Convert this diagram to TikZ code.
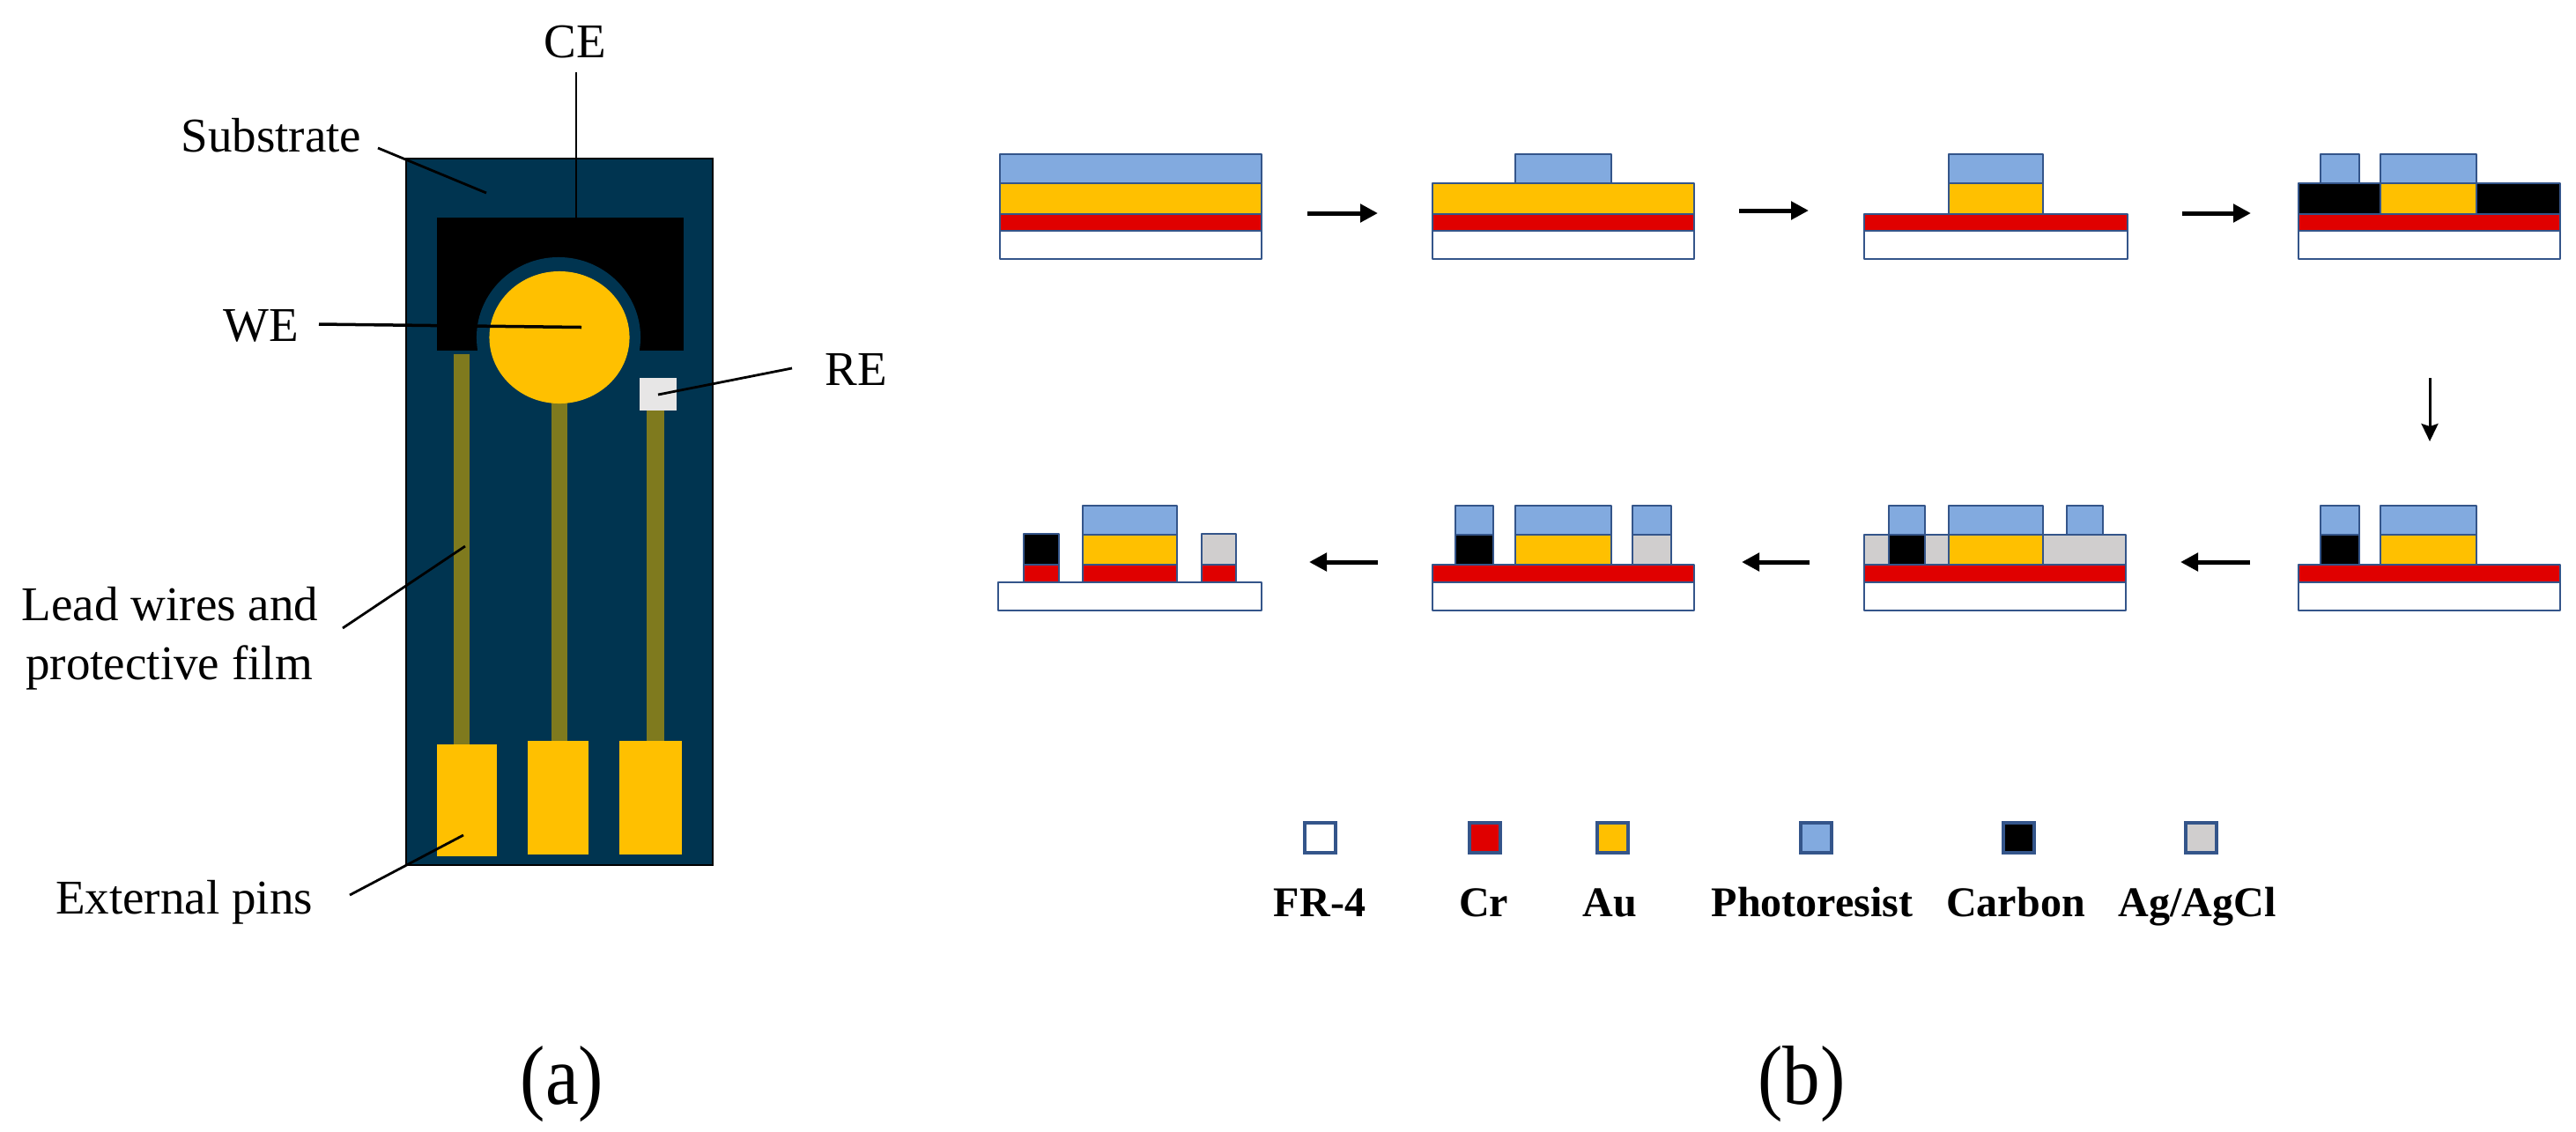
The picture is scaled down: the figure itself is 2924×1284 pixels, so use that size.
\documentclass[tikz,border=0pt]{standalone}
\usepackage{fontspec}
\setmainfont{Liberation Serif}
\usetikzlibrary{arrows.meta}
\definecolor{subst}{HTML}{003450}
\definecolor{lead}{HTML}{7F7A1E}
\definecolor{gold}{HTML}{FFC000}
\definecolor{crred}{HTML}{E00000}
\definecolor{resist}{HTML}{82AADF}
\definecolor{agcl}{HTML}{D0CECE}
\definecolor{edge}{HTML}{34558A}
\definecolor{regray}{HTML}{E7E6E6}
\newcommand{\layerbox}[5]{\draw[layer,fill=#5] (#1,#2) rectangle (#3,#4);}
\newcommand{\flatbox}[5]{\fill[#5] (#1,#2) rectangle (#3,#4);}
\tikzset{
  layer/.style={draw=edge,line width=0.026cm,line join=round},
  lbl/.style={font=\fontsize{15.65pt}{18pt}\selectfont,inner sep=0pt,anchor=base,text=black},
  leader/.style={draw=black,line width=0.028cm},
  flow/.style={draw=black,line width=0.05cm,-{Triangle[length=0.2cm,width=0.2cm]}},
  flowdown/.style={draw=black,line width=0.03cm,-{Stealth[length=0.2cm,width=0.19cm,inset=0.03cm]}},
  swatch/.style={draw=edge,line width=0.035cm,minimum width=0.35cm,minimum height=0.34cm,inner sep=0pt},
  legendlbl/.style={font=\fontsize{13.66pt}{16pt}\selectfont\bfseries,inner sep=0pt,anchor=base,text=black},
  panel/.style={font=\fontsize{24.2pt}{28pt}\selectfont,inner sep=0pt,anchor=base,text=black}
}
\begin{document}
\begin{tikzpicture}[x=0.01cm,y=-0.01cm]
\useasboundingbox (0,0) rectangle (2924,1284);
% --- panel (a) ---
\draw[fill=subst,draw=black,line width=0.015cm] (461,180) rectangle (809,982);
\flatbox{496}{247}{776}{398}{black}
\fill[subst] (634,383) ellipse [x radius=0.93cm,y radius=0.91cm];
\flatbox{515}{402}{533}{846}{lead}
\flatbox{626}{450}{644}{842}{lead}
\flatbox{734}{460}{754}{842}{lead}
\fill[gold] (635,383) ellipse [x radius=0.795cm,y radius=0.75cm];
\flatbox{726}{429}{768}{466}{regray}
\flatbox{496}{845}{564}{972}{gold}
\flatbox{599}{841}{668}{970}{gold}
\flatbox{703}{841}{774}{970}{gold}
% labels
\node[lbl] (ce) at (653,65) {CE};
\node[lbl] (sub) at (308,172) {Substrate};
\node[lbl] (we) at (296,387) {WE};
\node[lbl] (re) at (972,437) {RE};
\node[lbl] (lw1) at (193,704) {Lead wires and};
\node[lbl] (lw2) at (192,771) {protective film};
\node[lbl] (ext) at (209,1037) {External pins};
% leader ends
\coordinate (ceA) at (654,82);     \coordinate (ceB) at (654,247);
\coordinate (subA) at (429,168);   \coordinate (subB) at (552,219);
\coordinate (weA) at (362,368);    \coordinate (weB) at (660,371.5);
\coordinate (reA) at (899,418);    \coordinate (reB) at (747,448);
\coordinate (lwA) at (389,713);    \coordinate (lwB) at (528,620);
\coordinate (extA) at (397,1016);  \coordinate (extB) at (526,948);
\draw[leader] (ceA) -- (ceB);
\draw[leader] (subA) -- (subB);
\draw[leader,line width=0.035cm] (weA) -- (weB);
\draw[leader] (reA) -- (reB);
\draw[leader] (lwA) -- (lwB);
\draw[leader] (extA) -- (extB);
\node[panel] (pa) at (638,1253) {\scalebox{1}[1.12]{(a)}};
% --- panel (b), row 1 ---
% stage 1
\layerbox{1135}{262}{1432}{294}{white}
\layerbox{1135}{243}{1432}{262}{crred}
\layerbox{1135}{208}{1432}{243}{gold}
\layerbox{1135}{175}{1432}{208}{resist}
% stage 2
\layerbox{1626}{262}{1923}{294}{white}
\layerbox{1626}{243}{1923}{262}{crred}
\layerbox{1626}{208}{1923}{243}{gold}
\layerbox{1720}{175}{1829}{208}{resist}
% stage 3
\layerbox{2116}{262}{2415}{294}{white}
\layerbox{2116}{243}{2415}{262}{crred}
\layerbox{2212}{208}{2319}{243}{gold}
\layerbox{2212}{175}{2319}{208}{resist}
% stage 4
\layerbox{2609}{262}{2906}{294}{white}
\layerbox{2609}{243}{2906}{262}{crred}
\layerbox{2609}{208}{2702}{243}{black}
\layerbox{2811}{208}{2906}{243}{black}
\layerbox{2702}{208}{2811}{243}{gold}
\layerbox{2634}{175}{2678}{208}{resist}
\layerbox{2702}{175}{2811}{208}{resist}
% --- row 2 ---
% stage 5 (right)
\layerbox{2609}{661}{2906}{693}{white}
\layerbox{2609}{641}{2906}{661}{crred}
\layerbox{2634}{607}{2678}{641}{black}
\layerbox{2702}{607}{2811}{641}{gold}
\layerbox{2634}{574}{2678}{607}{resist}
\layerbox{2702}{574}{2811}{607}{resist}
% stage 6
\layerbox{2116}{661}{2413}{693}{white}
\layerbox{2116}{641}{2413}{661}{crred}
\layerbox{2116}{607}{2413}{641}{agcl}
\layerbox{2144}{607}{2185}{641}{black}
\layerbox{2212}{607}{2319}{641}{gold}
\layerbox{2144}{574}{2185}{607}{resist}
\layerbox{2212}{574}{2319}{607}{resist}
\layerbox{2346}{574}{2387}{607}{resist}
% stage 7
\layerbox{1626}{661}{1923}{693}{white}
\layerbox{1626}{641}{1923}{661}{crred}
\layerbox{1652}{607}{1695}{641}{black}
\layerbox{1720}{607}{1829}{641}{gold}
\layerbox{1853}{607}{1897}{641}{agcl}
\layerbox{1652}{574}{1695}{607}{resist}
\layerbox{1720}{574}{1829}{607}{resist}
\layerbox{1853}{574}{1897}{607}{resist}
% stage 8
\layerbox{1133}{661}{1432}{693}{white}
\layerbox{1162}{641}{1202}{661}{crred}
\layerbox{1229}{641}{1336}{661}{crred}
\layerbox{1364}{641}{1403}{661}{crred}
\layerbox{1162}{606}{1202}{641}{black}
\layerbox{1229}{607}{1336}{641}{gold}
\layerbox{1364}{606}{1403}{641}{agcl}
\layerbox{1229}{574}{1336}{607}{resist}
% process arrows
\coordinate (f1a) at (1484,242); \coordinate (f1b) at (1564,242);
\coordinate (f2a) at (1974,239); \coordinate (f2b) at (2053,239);
\coordinate (f3a) at (2477,242); \coordinate (f3b) at (2555,242);
\coordinate (f4a) at (2758,429); \coordinate (f4b) at (2758,501);
\coordinate (f5a) at (2554,638); \coordinate (f5b) at (2475,638);
\coordinate (f6a) at (2054,638); \coordinate (f6b) at (1977,638);
\coordinate (f7a) at (1564,638); \coordinate (f7b) at (1486,638);
\draw[flow] (f1a) -- (f1b);
\draw[flow] (f2a) -- (f2b);
\draw[flow] (f3a) -- (f3b);
\draw[flowdown] (f4a) -- (f4b);
\draw[flow] (f5a) -- (f5b);
\draw[flow] (f6a) -- (f6b);
\draw[flow] (f7a) -- (f7b);
% legend
\node[swatch,fill=white] (s1) at (1498.5,951) {};
\node[swatch,fill=crred] (s2) at (1685.5,951) {};
\node[swatch,fill=gold] (s3) at (1830.5,951) {};
\node[swatch,fill=resist] (s4) at (2061.5,951) {};
\node[swatch,fill=black] (s5) at (2291.5,951) {};
\node[swatch,fill=agcl] (s6) at (2498.5,951) {};
\node[legendlbl] (t1) at (1498,1040) {FR-4};
\node[legendlbl] (t2) at (1684,1040) {Cr};
\node[legendlbl] (t3) at (1827,1040) {Au};
\node[legendlbl] (t4) at (2057,1040) {Photoresist};
\node[legendlbl] (t5) at (2288,1040) {Carbon};
\node[legendlbl] (t6) at (2494,1040) {Ag/AgCl};
\node[panel] (pb) at (2045,1253) {\scalebox{1}[1.12]{(b)}};
\end{tikzpicture}
\end{document}
